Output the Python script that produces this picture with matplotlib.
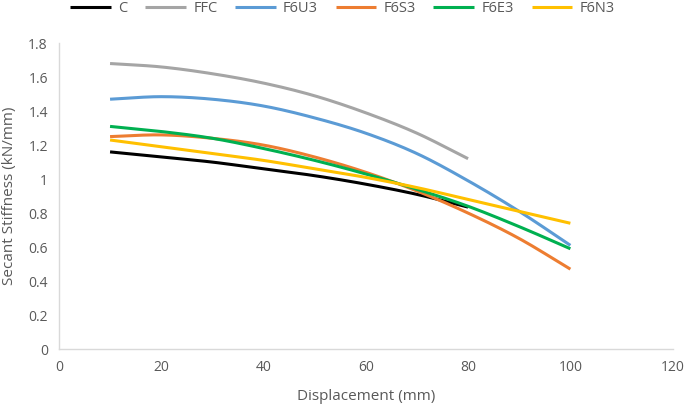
import matplotlib
matplotlib.use("Agg")
import matplotlib.pyplot as plt
import numpy as np

plt.rcParams['font.family'] = ['Open Sans', 'DejaVu Sans']

x_long = [10, 20, 30, 40, 50, 60, 70, 80, 90, 100]
x_short = [10, 20, 30, 40, 50, 60, 70, 80]

c_vals = [1.16, 1.13, 1.10, 1.06, 1.02, 0.97, 0.91, 0.835]
ffc_vals = [1.68, 1.66, 1.62, 1.565, 1.49, 1.39, 1.27, 1.12]
f6u3_vals = [1.47, 1.485, 1.47, 1.43, 1.36, 1.27, 1.15, 0.99, 0.81, 0.61]
f6s3_vals = [1.25, 1.26, 1.24, 1.20, 1.13, 1.04, 0.93, 0.80, 0.65, 0.47]
f6e3_vals = [1.31, 1.28, 1.24, 1.18, 1.11, 1.03, 0.94, 0.84, 0.72, 0.59]
f6n3_vals = [1.23, 1.19, 1.15, 1.11, 1.06, 1.01, 0.95, 0.88, 0.81, 0.74]

labels = ['C', 'FFC', 'F6U3', 'F6S3', 'F6E3', 'F6N3']
colors = ['#000000', '#A5A5A5', '#5B9BD5', '#ED7D31', '#00B050', '#FFC000']


def smooth(xs, ys, n=20):
    # catmull-rom style smoothing, like Excel's smoothed lines
    xs = np.asarray(xs, float)
    ys = np.asarray(ys, float)
    px = np.concatenate([[2 * xs[0] - xs[1]], xs, [2 * xs[-1] - xs[-2]]])
    py = np.concatenate([[2 * ys[0] - ys[1]], ys, [2 * ys[-1] - ys[-2]]])
    outx, outy = [], []
    t = np.linspace(0, 1, n, endpoint=False)
    for i in range(1, len(px) - 2):
        for p, out in ((px, outx), (py, outy)):
            p0, p1, p2, p3 = p[i - 1], p[i], p[i + 1], p[i + 2]
            out.extend(0.5 * ((2 * p1) + (-p0 + p2) * t
                              + (2 * p0 - 5 * p1 + 4 * p2 - p3) * t ** 2
                              + (-p0 + 3 * p1 - 3 * p2 + p3) * t ** 3))
    outx.append(xs[-1])
    outy.append(ys[-1])
    return outx, outy


fig = plt.figure(figsize=(6.85, 4.07), dpi=100)
ax = fig.add_axes([0.086, 0.1425, 0.896, 0.7515])

series = [(x_short, c_vals), (x_short, ffc_vals), (x_long, f6u3_vals),
          (x_long, f6s3_vals), (x_long, f6e3_vals), (x_long, f6n3_vals)]
for (xs, ys), lab, col in zip(series, labels, colors):
    sx, sy = smooth(xs, ys)
    ax.plot(sx, sy, color=col, lw=2.2, label=lab, solid_capstyle='butt')

ax.set_xlim(0, 120)
ax.set_ylim(0, 1.8)
ax.set_xticks(range(0, 121, 20))
ax.set_yticks(np.arange(0, 1.81, 0.2))
ax.set_yticklabels(['0', '0.2', '0.4', '0.6', '0.8', '1', '1.2', '1.4', '1.6', '1.8'])
ax.tick_params(length=0, labelsize=10, colors='#595959', pad=8)
for s in ['top', 'right']:
    ax.spines[s].set_visible(False)
for s in ['left', 'bottom']:
    ax.spines[s].set_color('#D9D9D9')
    ax.spines[s].set_linewidth(1)

ax.set_xlabel('Displacement (mm)', fontsize=11, color='#595959', labelpad=10)
ax.set_ylabel('Secant Stiffness (kN/mm)', fontsize=11, color='#595959', labelpad=8)

fig.legend(loc='upper center', bbox_to_anchor=(0.5, 1.015), ncol=6, frameon=False,
           fontsize=10.5, handlelength=2.8, columnspacing=1.2, handletextpad=0.5,
           labelcolor='#595959', borderaxespad=0.1)

fig.savefig('out.png', dpi=100)
